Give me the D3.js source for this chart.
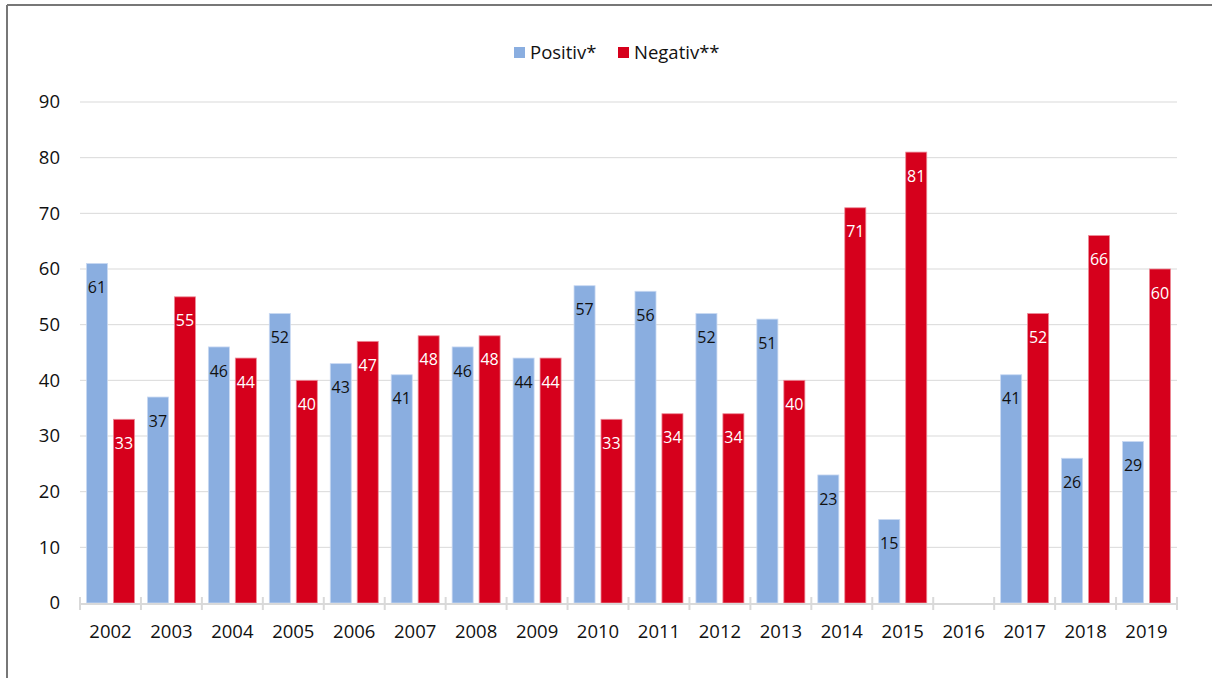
<!DOCTYPE html>
<html><head><meta charset="utf-8">
<script src="https://cdn.jsdelivr.net/npm/d3@7"></script>
<style>body{margin:0;background:#fff}svg{display:block;font-family:"Open Sans",sans-serif}</style>
</head><body><svg id="c" width="1212" height="678"></svg>
<script>
const years = ["2002","2003","2004","2005","2006","2007","2008","2009","2010","2011","2012","2013","2014","2015","2016","2017","2018","2019"];
const positiv = [61,37,46,52,43,41,46,44,57,56,52,51,23,15,null,41,26,29];
const negativ = [33,55,44,40,47,48,48,44,33,34,34,40,71,81,null,52,66,60];
const yTicks = [0,10,20,30,40,50,60,70,80,90];
const seriesNames = ["Positiv*","Negativ**"];
const colors = ["#8aaee0","#d6001c"];
const labelColors = ["#111","#fff"];

const svg = d3.select("#c");
// frame
svg.append("line").attr("x1",7).attr("x2",1212).attr("y1",5).attr("y2",5).attr("stroke","#777").attr("stroke-width",2);
svg.append("line").attr("x1",7).attr("x2",7).attr("y1",5).attr("y2",678).attr("stroke","#777").attr("stroke-width",2);

const x = d3.scaleBand().domain(years).range([80,1177]).paddingInner(0).paddingOuter(0);
const x1 = d3.scaleBand().domain([0,1]).range([0,x.bandwidth()]).paddingInner(0.22).paddingOuter(0.24);
const y = d3.scaleLinear().domain([0,90]).range([603,102]);

// grid
svg.append("g").selectAll("line").data(yTicks.filter(d=>d>0)).join("line")
  .attr("x1",80).attr("x2",1177).attr("y1",d=>y(d)).attr("y2",d=>y(d))
  .attr("stroke","#d9d9d9").attr("stroke-width",1);

// y labels
svg.append("g").selectAll("text").data(yTicks).join("text")
  .attr("x",60).attr("y",d=>y(d)).attr("dy","0.35em").attr("text-anchor","end")
  .attr("font-size",18.5).attr("fill","#111").text(d=>d);

// bars
const series = [positiv, negativ];
series.forEach((vals,si)=>{
  const g = svg.append("g");
  const data = years.map((yr,i)=>({yr, v: vals[i]})).filter(d=>d.v!=null);
  g.selectAll("rect").data(data).join("rect")
    .attr("x",d=>x(d.yr)+x1(si)).attr("width",x1.bandwidth())
    .attr("y",d=>y(d.v)).attr("height",d=>y(0)-y(d.v))
    .attr("fill",colors[si]).attr("stroke", si===0?"#c9d9f2":"#ec8a97").attr("stroke-width",0.8);
  g.selectAll("text").data(data).join("text")
    .attr("x",d=>x(d.yr)+x1(si)+x1.bandwidth()/2).attr("y",d=>y(d.v)+24).attr("dy","0.35em")
    .attr("text-anchor","middle").attr("font-size",16).attr("fill",labelColors[si]).text(d=>d.v);
});

// x axis
svg.append("line").attr("x1",80).attr("x2",1177).attr("y1",604).attr("y2",604).attr("stroke","#d9d9d9").attr("stroke-width",2);
svg.append("g").selectAll("line").data(years.concat(["end"])).join("line")
  .attr("x1",(d,i)=>i<years.length?x(d):x.range()[1]).attr("x2",(d,i)=>i<years.length?x(d):x.range()[1])
  .attr("y1",597).attr("y2",610).attr("stroke","#d9d9d9").attr("stroke-width",2);
svg.append("g").selectAll("text").data(years).join("text")
  .attr("x",d=>x(d)+x.bandwidth()/2).attr("y",632).attr("dy","0.35em").attr("text-anchor","middle")
  .attr("font-size",18.5).attr("fill","#111").text(d=>d);

// legend
const leg = svg.append("g");
const legX = [514, 618];
seriesNames.forEach((n,i)=>{
  leg.append("rect").attr("x",legX[i]).attr("y",47).attr("width",11).attr("height",11).attr("fill",colors[i]);
  leg.append("text").attr("x",legX[i]+16).attr("y",52.5).attr("dy","0.35em").attr("font-size",18.5).attr("fill","#111").text(n);
});
</script></body></html>
